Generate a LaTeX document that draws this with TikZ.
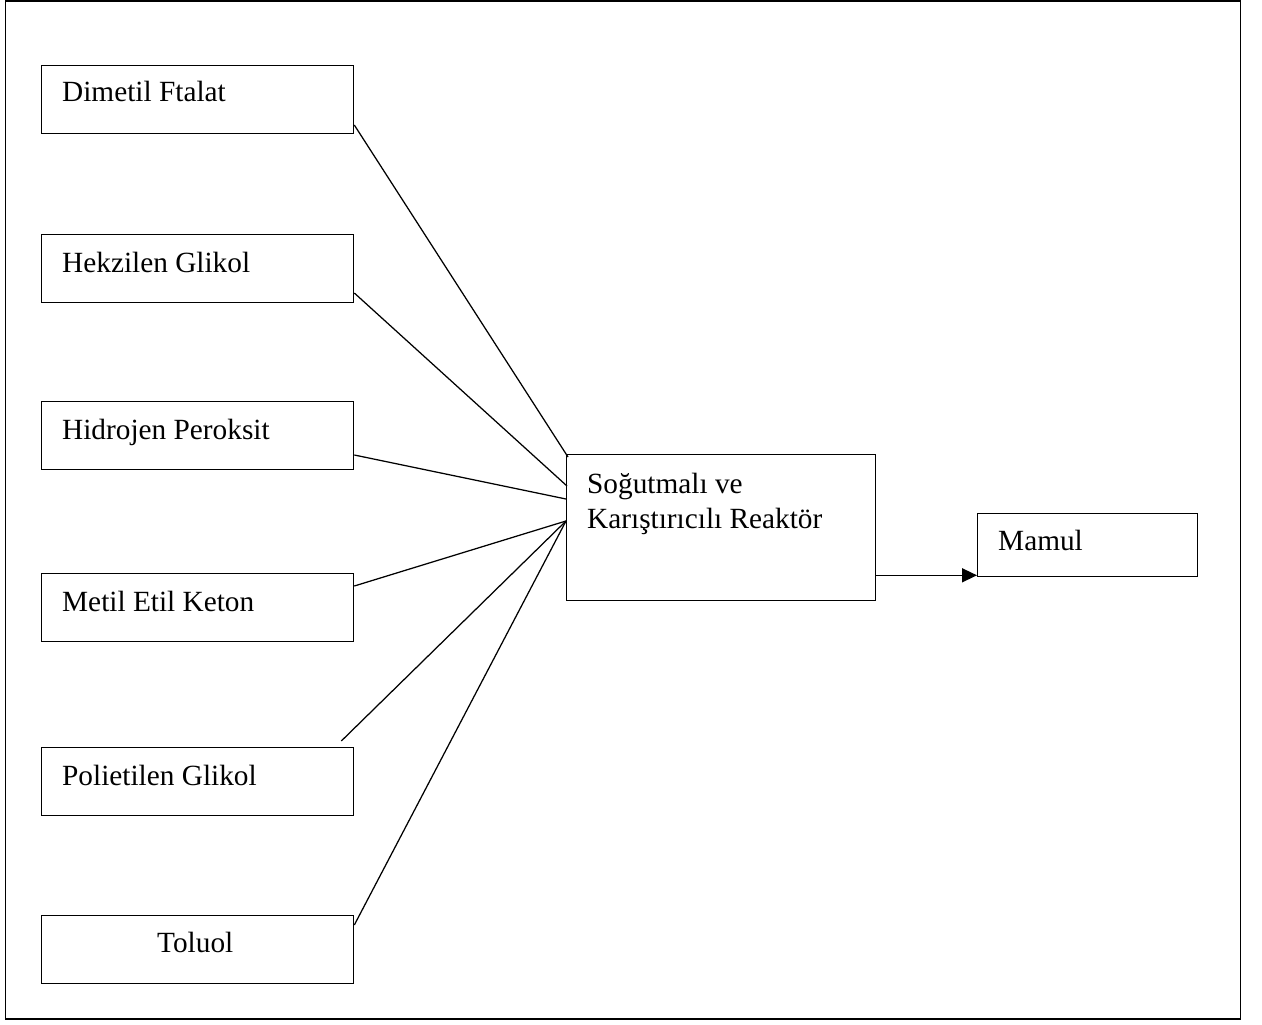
\documentclass[tikz,border=0pt]{standalone}
\usepackage{fontspec}
\setmainfont{Liberation Serif}
\usetikzlibrary{calc,arrows.meta}
\begin{document}
\begin{tikzpicture}[x=1pt,y=-1pt,
  frame/.style={draw,line width=1.3pt},
  inbox/.style={draw,line width=1.3pt,rectangle,anchor=north west,inner sep=0pt,
    minimum width=312pt,minimum height=68pt},
  lbl/.style={anchor=base west,inner sep=0pt,font=\fontsize{29.3}{35}\selectfont},
  feed/.style={line width=1.25pt},
  flow/.style={line width=1.5pt,-{Triangle[length=15pt,width=14pt]}}]
\useasboundingbox (0,0) rectangle (1262,1025);
% outer frame
\draw[frame] (5.5,1) rectangle (1240.5,1019);

% raw material boxes
\node[inbox] (d) at (41,65)  {};
\node[inbox] (h) at (41,234) {};
\node[inbox] (hp) at (41,401) {};
\node[inbox] (m) at (41,573) {};
\node[inbox] (p) at (41,747) {};
\node[inbox] (t) at (41,915) {};
\node[lbl] (dl) at ($(d.north west)+(21,37)$)  {Dimetil Ftalat};
\node[lbl] (hl) at ($(h.north west)+(21,38)$)  {Hekzilen Glikol};
\node[lbl] (hpl) at ($(hp.north west)+(21,38)$) {Hidrojen Peroksit};
\node[lbl] (ml) at ($(m.north west)+(21,38)$)  {Metil Etil Keton};
\node[lbl] (pl) at ($(p.north west)+(21,38)$)  {Polietilen Glikol};
\node[lbl] (tl) at ($(t.north west)+(116,37)$) {Toluol};

% reactor and product
\node[draw,line width=1.3pt,rectangle,anchor=north west,inner sep=0pt,
  minimum width=309pt,minimum height=146pt] (r) at (566,454) {};
\node[lbl] (rl1) at ($(r.north west)+(21,39)$) {Soğutmalı ve};
\node[lbl] (rl2) at ($(r.north west)+(21,74)$) {Karıştırıcılı Reaktör};
\node[draw,line width=1.3pt,rectangle,anchor=north west,inner sep=0pt,
  minimum width=220pt,minimum height=63pt] (mm) at (977,513) {};
\node[lbl] (mml) at ($(mm.north west)+(21,37)$) {Mamul};

% feed lines into the reactor
\coordinate (pf) at ($(p.north east)+(-13,-6)$);
\draw[feed] ($(d.north east)+(0,60)$) -- ($(r.north west)+(2,3)$);
\draw[feed] ($(h.north east)+(0,59)$) -- ($(r.north west)+(1,32)$);
\draw[feed] ($(hp.north east)+(0,54)$) -- ($(r.north west)+(0,45)$);
\draw[feed] ($(m.north east)+(0,13)$) -- ($(r.north west)+(0,67)$);
\draw[feed] (pf) -- ($(r.north west)+(0,67)$);
\draw[feed] ($(t.north east)+(0,10)$) -- ($(r.north west)+(0,67)$);

% product line
\coordinate (ro) at ($(r.south east)+(0,-26)$);
\draw[flow] (ro) -- (ro -| mm.west);
\end{tikzpicture}
\end{document}
